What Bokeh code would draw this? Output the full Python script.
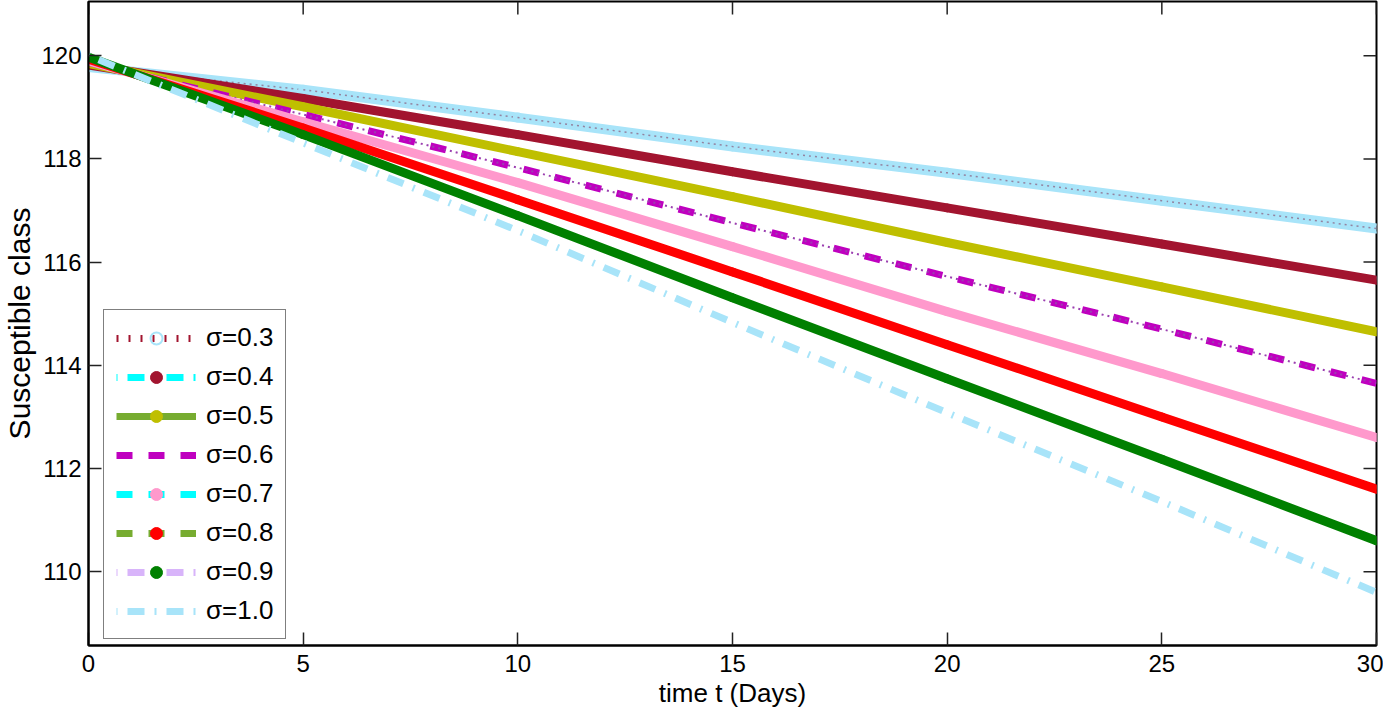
import math
from bokeh.plotting import figure
from bokeh.models import Legend, LegendItem, FixedTicker, Range1d
from bokeh.embed import file_html
from bokeh.resources import INLINE

# ---------------- data ----------------
t_days = [0, 5, 10, 15, 20, 25, 30]
s_03 = [119.78, 119.34, 118.80, 118.24, 117.73, 117.19, 116.65]
s_04 = [119.82, 119.17, 118.47, 117.75, 117.05, 116.35, 115.65]
s_05 = [119.85, 119.01, 118.14, 117.27, 116.38, 115.52, 114.65]
s_06 = [119.87, 118.86, 117.83, 116.76, 115.72, 114.70, 113.65]
s_07 = [119.90, 118.72, 117.54, 116.30, 115.04, 113.84, 112.60]
s_08 = [119.93, 118.60, 117.21, 115.81, 114.40, 113.00, 111.60]
s_09 = [119.97, 118.47, 116.90, 115.31, 113.74, 112.18, 110.60]
s_10 = [120.00, 118.31, 116.61, 114.83, 113.08, 111.36, 109.60]

legend_labels = ["σ=0.3", "σ=0.4", "σ=0.5", "σ=0.6", "σ=0.7", "σ=0.8", "σ=0.9", "σ=1.0"]
x_ticks = [0, 5, 10, 15, 20, 25, 30]
y_ticks = [110, 112, 114, 116, 118, 120]
x_lim = (0, 30)
y_lim = (108.57, 121.05)

# ---------------- styles ----------------
FONT = "Liberation Sans"
LIGHT_BLUE = "#a8e4f9"
DARK_RED = "#a2142f"
OLIVE = "#bfbf00"
GREEN_L = "#77ac30"
MAGENTA = "#bf00bf"
CYAN = "#00ffff"
PINK = "#ff99cc"
RED = "#ff0000"
GREEN = "#008000"
LAVENDER = "#d8b4fa"
DASHDOT = "17 10 2 10"

p = figure(
    width=1383, height=711,
    x_range=Range1d(*x_lim), y_range=Range1d(*y_lim),
    output_backend="svg", toolbar_location=None,
    min_border_left=84, min_border_right=7, min_border_top=1, min_border_bottom=66,
    background_fill_color="white", border_fill_color="white",
    outline_line_color="black", outline_line_width=2,
)
p.xgrid.visible = False
p.ygrid.visible = False


def style_axis(ax, ticks, size):
    ax.ticker = FixedTicker(ticks=ticks)
    ax.major_tick_in = 13
    ax.major_tick_out = 0
    ax.minor_tick_in = 0
    ax.minor_tick_out = 0
    ax.major_tick_line_color = "#222222"
    ax.major_tick_line_width = 1.5
    ax.axis_line_color = "black"
    ax.axis_line_width = 2
    ax.major_label_text_font = FONT
    ax.major_label_text_font_size = size
    ax.major_label_text_color = "black"


xb = p.xaxis[0]
yl = p.yaxis[0]
style_axis(xb, x_ticks, "24px")
style_axis(yl, y_ticks, "24px")
xb.major_label_standoff = 9
yl.major_label_standoff = 7
xb.axis_label = "time t (Days)"
xb.axis_label_text_font = FONT
xb.axis_label_text_font_size = "26px"
xb.axis_label_text_font_style = "normal"
xb.axis_label_text_color = "black"
xb.axis_label_standoff = 3
yl.axis_label = "Susceptible class"
yl.axis_label_text_font = FONT
yl.axis_label_text_font_size = "30px"
yl.axis_label_text_font_style = "normal"
yl.axis_label_text_color = "black"
yl.axis_label_standoff = 2

# inward box ticks on the top and right edges (MATLAB "box on")
p.ray(x=[x_lim[1]] * len(y_ticks), y=y_ticks, length=13, length_units="screen",
      angle=math.pi, line_color="#222222", line_width=1.5)
p.ray(x=x_ticks, y=[y_lim[1]] * len(x_ticks), length=13, length_units="screen",
      angle=-math.pi / 2, line_color="#222222", line_width=1.5)

# ---------------- curves ----------------
# each series: MATLAB line style underneath, dense markers shown as a thick trail
items = []

# sigma = 0.3 : dotted dark-red line, hollow light-blue circle markers
l03 = p.line(t_days, s_03, line_color=DARK_RED, line_width=7, line_dash="2 10")
p.line(t_days, s_03, line_color=LIGHT_BLUE, line_width=10, line_cap="round")
p.line(t_days, s_03, line_color="#8a5a7a", line_width=1.5, line_dash="2 4", line_alpha=0.7)
m03 = p.scatter(t_days, s_03, marker="circle", size=8, line_color=LIGHT_BLUE,
                line_width=2, fill_alpha=0)
items.append(LegendItem(label=legend_labels[0], renderers=[l03, m03]))

# sigma = 0.4 : cyan dash-dot line, dark-red dots
l04 = p.line(t_days, s_04, line_color=CYAN, line_width=7, line_dash=DASHDOT, line_dash_offset=28)
p.line(t_days, s_04, line_color=DARK_RED, line_width=9, line_cap="round")
m04 = p.scatter(t_days, s_04, marker="circle", size=8, line_color=DARK_RED, fill_color=DARK_RED)
items.append(LegendItem(label=legend_labels[1], renderers=[l04, m04]))

# sigma = 0.5 : green solid line, olive dots
l05 = p.line(t_days, s_05, line_color=GREEN_L, line_width=7)
p.line(t_days, s_05, line_color=OLIVE, line_width=9, line_cap="round")
m05 = p.scatter(t_days, s_05, marker="circle", size=8, line_color=OLIVE, fill_color=OLIVE)
items.append(LegendItem(label=legend_labels[2], renderers=[l05, m05]))

# sigma = 0.6 : magenta dashed line, small purple dots
l06 = p.line(t_days, s_06, line_color=MAGENTA, line_width=7, line_dash="16 16")
p.line(t_days, s_06, line_color="#9b3fb0", line_width=2, line_dash="2 4")
items.append(LegendItem(label=legend_labels[3], renderers=[l06]))

# sigma = 0.7 : cyan dashed line, pink dots
l07 = p.line(t_days, s_07, line_color=CYAN, line_width=7, line_dash="16 16")
p.line(t_days, s_07, line_color=PINK, line_width=9, line_cap="round")
m07 = p.scatter(t_days, s_07, marker="circle", size=8, line_color=PINK, fill_color=PINK)
items.append(LegendItem(label=legend_labels[4], renderers=[l07, m07]))

# sigma = 0.8 : green dashed line, red dots
l08 = p.line(t_days, s_08, line_color=GREEN_L, line_width=7, line_dash="16 16")
p.line(t_days, s_08, line_color=RED, line_width=9, line_cap="round")
m08 = p.scatter(t_days, s_08, marker="circle", size=8, line_color=RED, fill_color=RED)
items.append(LegendItem(label=legend_labels[5], renderers=[l08, m08]))

# sigma = 0.9 : lavender dash-dot line, green dots
l09 = p.line(t_days, s_09, line_color=LAVENDER, line_width=7, line_dash=DASHDOT, line_dash_offset=28)
p.line(t_days, s_09, line_color=GREEN, line_width=9, line_cap="round")
m09 = p.scatter(t_days, s_09, marker="circle", size=8, line_color=GREEN, fill_color=GREEN)
items.append(LegendItem(label=legend_labels[6], renderers=[l09, m09]))

# sigma = 1.0 : light-blue dash-dot line
l10 = p.line(t_days, s_10, line_color=LIGHT_BLUE, line_width=7, line_dash=DASHDOT, line_dash_offset=28)
items.append(LegendItem(label=legend_labels[7], renderers=[l10]))

legend = Legend(
    items=items, location=(15, 6),
    glyph_width=80, glyph_height=30, label_height=30, spacing=8,
    padding=12, margin=0, label_standoff=10,
    border_line_color="black", border_line_width=1.5,
    background_fill_color="white", background_fill_alpha=1,
    label_text_font=FONT, label_text_font_size="26px", label_text_color="black",
)
p.add_layout(legend)

open("out.html", "w").write(file_html(p, INLINE))
